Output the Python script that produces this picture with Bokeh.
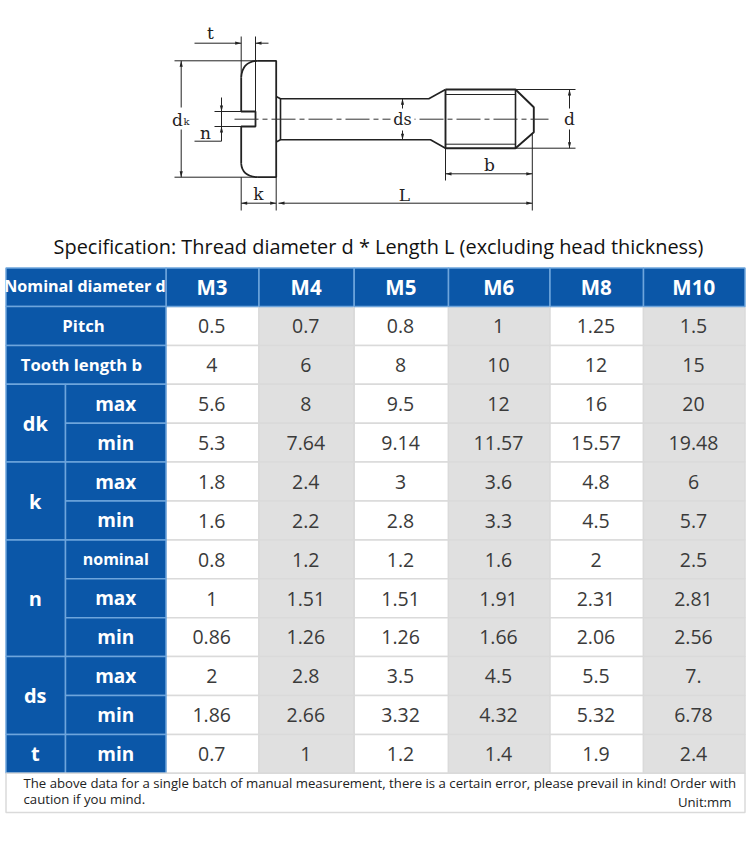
from bokeh.core.properties import value
from bokeh.plotting import figure
from bokeh.embed import file_html
from bokeh.resources import INLINE

DIAMETERS = ["M3", "M4", "M5", "M6", "M8", "M10"]
PITCH = ["0.5", "0.7", "0.8", "1", "1.25", "1.5"]
TOOTH_B = ["4", "6", "8", "10", "12", "15"]
DK_MAX = ["5.6", "8", "9.5", "12", "16", "20"]
DK_MIN = ["5.3", "7.64", "9.14", "11.57", "15.57", "19.48"]
K_MAX = ["1.8", "2.4", "3", "3.6", "4.8", "6"]
K_MIN = ["1.6", "2.2", "2.8", "3.3", "4.5", "5.7"]
N_NOM = ["0.8", "1.2", "1.2", "1.6", "2", "2.5"]
N_MAX = ["1", "1.51", "1.51", "1.91", "2.31", "2.81"]
N_MIN = ["0.86", "1.26", "1.26", "1.66", "2.06", "2.56"]
DS_MAX = ["2", "2.8", "3.5", "4.5", "5.5", "7."]
DS_MIN = ["1.86", "2.66", "3.32", "4.32", "5.32", "6.78"]
T_MIN = ["0.7", "1", "1.2", "1.4", "1.9", "2.4"]
ROWS = [PITCH, TOOTH_B, DK_MAX, DK_MIN, K_MAX, K_MIN, N_NOM, N_MAX, N_MIN, DS_MAX, DS_MIN, T_MIN]
SUB_LABELS = [None, None, "max", "min", "max", "min", "nominal", "max", "min", "max", "min", "min"]
GROUPS = [("dk", 2, 4), ("k", 4, 6), ("n", 6, 9), ("ds", 9, 11), ("t", 11, 12)]
SPAN_LABELS = ["Pitch", "Tooth length b"]
TITLE = "Specification: Thread diameter d * Length L (excluding head thickness)"
NOTE_1 = "The above data for a single batch of manual measurement, there is a certain error, please prevail in kind! Order with"
NOTE_2 = "caution if you mind."
UNIT = "Unit:mm"

BLUE, BLUE_LINE, GREY, GREY_LINE, INK = "#0b57a8", "#6ea5dc", "#e0e0e0", "#dadada", "#3a3a3a"
SANS = "Open Sans"
X = [5.5, 65, 165.5, 258.5, 353.7, 448, 549.5, 643, 744.5]
Y = [267.5 + 0, 306] + [306 + i * 38.9 for i in range(1, 13)]
FOOT = 812

p = figure(width=750, height=846, x_range=(0, 750), y_range=(846, 0), output_backend="svg",
           toolbar_location=None, min_border=0, outline_line_color=None,
           background_fill_color="white", border_fill_color="white")
p.axis.visible = False
p.grid.visible = False


def cells(l, r, t, b, fill, line):
    p.quad(left=l, right=r, top=t, bottom=b, fill_color=fill, line_color=line, line_width=1.5)


def text(x, y, s, size, color=INK, bold=False, align="center", font=SANS, baseline="middle"):
    p.text(x=[x], y=[y], text=[s], text_font=value(font), text_font_size=f"{size}px",
           text_color=color, text_font_style="bold" if bold else "normal",
           text_align=align, text_baseline=baseline)


# ---------- drawing ----------
def ln(xs, ys, w=1.0):
    p.line(xs, ys, line_color="#222222", line_width=w)


def arrow(x, y, dx, dy):
    L, W = 6, 1.6
    p.patch([x, x - dx * L - dy * W, x - dx * L + dy * W], [y, y - dy * L - dx * W, y - dy * L + dx * W],
            fill_color="#222222", line_color=None)


HEAD_L, HEAD_R, HEAD_T, HEAD_B = 240.7, 275.7, 60.3, 176.7
SLOT_R, SLOT_T, SLOT_B = 255, 111, 126
NECK, SH_T, SH_B = 280, 98.3, 139.3
TH_L, TH_R, TH_T, TH_B, TIP = 445, 515, 89, 147.7, 533.3
CY = 118.7
# head
ln([256.7, HEAD_R, HEAD_R, 256.7], [HEAD_T, HEAD_T, HEAD_B, HEAD_B], 1.8)
p.quadratic(x0=[HEAD_L, HEAD_L], y0=[76.7, 163.3], x1=[256.7, 256.7], y1=[HEAD_T, HEAD_B],
            cx=[HEAD_L + 1, HEAD_L + 1], cy=[HEAD_T + 1, HEAD_B - 1], line_color="#222222", line_width=1.8)
ln([HEAD_L, HEAD_L, SLOT_R, SLOT_R, HEAD_L, HEAD_L], [76.7, SLOT_T, SLOT_T, SLOT_B, SLOT_B, 163.3], 1.8)
# shaft
ln([HEAD_R, NECK, 428.3, TH_L], [96, SH_T, SH_T, TH_T], 1.6)
ln([HEAD_R, NECK, 430, TH_L], [141.5, SH_B, SH_B, TH_B], 1.6)
ln([NECK, NECK], [SH_T, SH_B], 1.6)
# thread
ln([TH_L, TH_R, TIP, TIP, TH_R, TH_L, TH_L], [TH_T, TH_T, 106.7, 131.7, TH_B, TH_B, TH_T], 1.9)
ln([TH_R, TH_R], [TH_T, TH_B], 1.6)
ln([TH_L, TH_R], [94, 94], 1)
ln([TH_L, TH_R], [143.7, 143.7], 1)
# centre line
p.line([234, 548], [CY, CY], line_color="#333333", line_width=1, line_dash=[24, 4, 5, 4])
# dimension lines
ln([174, 257], [HEAD_T, HEAD_T], 1)
ln([174, 257], [HEAD_B, HEAD_B], 1)
ln([180.7, 180.7], [HEAD_T, 107], 1)
ln([180.7, 180.7], [129, HEAD_B], 1)
arrow(180.7, HEAD_T, 0, -1)
arrow(180.7, HEAD_B, 0, 1)
ln([HEAD_L, HEAD_L], [36, HEAD_T + 16], 1)
ln([SLOT_R, SLOT_R], [36, SLOT_T], 1)
ln([194, HEAD_L], [42.7, 42.7], 1)
ln([SLOT_R, 268], [42.7, 42.7], 1)
arrow(HEAD_L, 42.7, 1, 0)
arrow(SLOT_R, 42.7, -1, 0)
ln([214, HEAD_L], [SLOT_T, SLOT_T], 1)
ln([214, HEAD_L], [SLOT_B, SLOT_B], 1)
ln([221, 221], [97, 140.7], 1)
ln([194, 221], [140.7, 140.7], 1)
arrow(221, SLOT_T, 0, 1)
arrow(221, SLOT_B, 0, -1)
ln([HEAD_L, HEAD_L], [HEAD_B, 210], 1)
ln([HEAD_R, HEAD_R], [HEAD_B, 210], 1)
ln([HEAD_L, HEAD_R], [202.7, 202.7], 1)
arrow(HEAD_L, 202.7, -1, 0)
arrow(HEAD_R, 202.7, 1, 0)
ln([278, TIP - 1.5], [202.7, 202.7], 1)
arrow(278, 202.7, -1, 0)
arrow(TIP - 1.5, 202.7, 1, 0)
ln([TIP - 1.5, TIP - 1.5], [133, 210], 1)
ln([402, 402], [SH_T, 108], 1)
ln([402, 402], [130, SH_B], 1)
arrow(402, SH_T, 0, -1)
arrow(402, SH_B, 0, 1)
ln([TH_R, 575], [TH_T, TH_T], 1)
ln([TH_R, 575], [TH_B, TH_B], 1)
ln([569, 569], [TH_T, 108], 1)
ln([569, 569], [129, TH_B], 1)
arrow(569, TH_T, 0, -1)
arrow(569, TH_B, 0, 1)
ln([TH_L, TH_L], [TH_B, 180], 1)
ln([TH_L, TIP - 1.5], [173.3, 173.3], 1)
arrow(TH_L, 173.3, -1, 0)
arrow(TIP - 1.5, 173.3, 1, 0)
SERIF = "DejaVu Serif"
p.rect(x=[402], y=[CY], width=24, height=16, fill_color="white", line_color=None)
for tx, ty, s, sz in [(210, 32.5, "t", 17), (177, 119, "d", 17), (205, 132.5, "n", 17), (402, 119, "ds", 16),
                      (258, 193.5, "k", 17), (404, 194.5, "L", 17), (489, 164.5, "b", 17), (569, 118.5, "d", 17)]:
    text(tx, ty, s, sz, "#222222", font=SERIF)
text(186, 121, "k", 10, "#222222", font=SERIF)

# ---------- title ----------
text(378, 245.5, TITLE, 19.9, "#111111")

# ---------- table ----------
n = len(DIAMETERS)
for i in range(n):
    fill = "white" if i % 2 == 0 else GREY
    for r in range(len(ROWS)):
        cells(X[i + 2], X[i + 3], Y[r + 1], Y[r + 2], fill, GREY_LINE)
        text((X[i + 2] + X[i + 3]) / 2 - 0.8, (Y[r + 1] + Y[r + 2]) / 2 + 0.3, ROWS[r][i], 19.5)
    cells(X[i + 2], X[i + 3], Y[0], Y[1], BLUE, BLUE_LINE)
    text((X[i + 2] + X[i + 3]) / 2 - 0.5, (Y[0] + Y[1]) / 2 - 0.3, DIAMETERS[i], 20.5, "white", True)
cells(X[0], X[2], Y[0], Y[1], BLUE, BLUE_LINE)
text((X[0] + X[2]) / 2 - 1, (Y[0] + Y[1]) / 2 - 1, "Nominal diameter d", 16.1, "white", True)
for r, s in enumerate(SPAN_LABELS):
    cells(X[0], X[2], Y[r + 1], Y[r + 2], BLUE, BLUE_LINE)
    text(83 - r * 2, (Y[r + 1] + Y[r + 2]) / 2 - 0.5, s, 16.7, "white", True)
for s, a, b in GROUPS:
    cells(X[0], X[1], Y[a + 1], Y[b + 1], BLUE, BLUE_LINE)
    text((X[0] + X[1]) / 2 - 0.5, (Y[a + 1] + Y[b + 1]) / 2, s, 20, "white", True)
for r, s in enumerate(SUB_LABELS):
    if s:
        cells(X[1], X[2], Y[r + 1], Y[r + 2], BLUE, BLUE_LINE)
        text((X[1] + X[2]) / 2, (Y[r + 1] + Y[r + 2]) / 2, s, 16 if s == "nominal" else 19, "white", True)
cells(X[0], X[-1], Y[-1], FOOT, "white", GREY_LINE)
text(23, 782.5, NOTE_1, 13.2, "#222222", align="left")
text(23, 798.5, NOTE_2, 13.2, "#222222", align="left")
text(731, 801, UNIT, 13.2, "#222222", align="right")

open("out.html", "w").write(file_html(p, INLINE))
